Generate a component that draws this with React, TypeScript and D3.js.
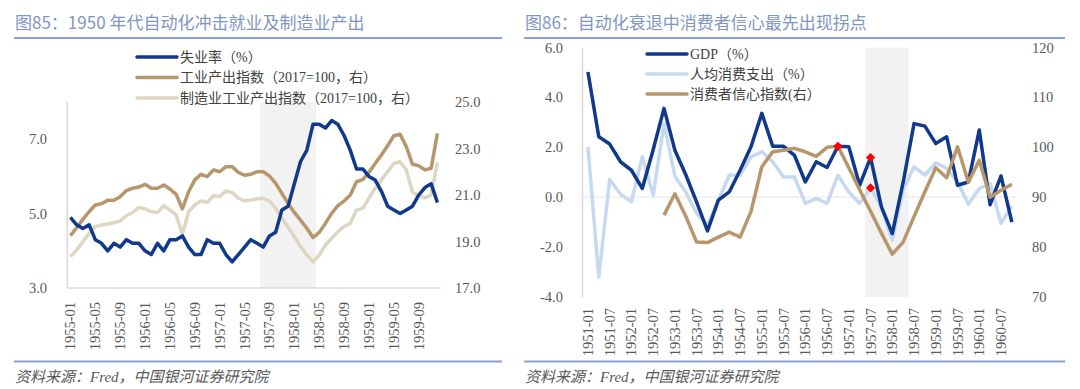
import * as d3 from "d3";

// categories
const monthCats: string[] = [];
for (let y = 1955; y <= 1959; y++) {
  for (let m = 1; m <= 12; m++) monthCats.push(`${y}-${String(m).padStart(2, "0")}`);
}
const quarterCats: string[] = [];
for (let y = 1951; y <= 1960; y++) {
  for (const m of [1, 4, 7, 10]) quarterCats.push(`${y}-${String(m).padStart(2, "0")}`);
}

// 图85 series (monthly 1955-01 .. 1959-12)
const unemployment = [
  4.9, 4.7, 4.6, 4.7, 4.3, 4.2, 4.0, 4.2, 4.1, 4.3, 4.2, 4.2,
  4.0, 3.9, 4.2, 4.0, 4.3, 4.3, 4.4, 4.1, 3.9, 3.9, 4.3, 4.2,
  4.2, 3.9, 3.7, 3.9, 4.1, 4.3, 4.2, 4.1, 4.4, 4.5, 5.1, 5.2,
  5.8, 6.4, 6.7, 7.4, 7.4, 7.3, 7.5, 7.4, 7.1, 6.7, 6.2, 6.2,
  6.0, 5.9, 5.6, 5.2, 5.1, 5.0, 5.1, 5.2, 5.5, 5.7, 5.8, 5.3,
];
const indpro = [
  19.25, 19.59, 19.95, 20.28, 20.57, 20.63, 20.77, 20.77, 20.93, 21.19, 21.29, 21.34,
  21.46, 21.29, 21.29, 21.43, 21.26, 21.03, 20.4, 21.14, 21.65, 21.89, 21.79, 22.08,
  22.0, 22.22, 22.22, 21.97, 21.85, 21.89, 22.0, 22.0, 21.82, 21.5, 21.07, 20.64,
  20.25, 19.92, 19.57, 19.17, 19.39, 19.78, 20.21, 20.54, 20.74, 21.0, 21.57, 21.66,
  21.97, 22.36, 22.72, 23.12, 23.55, 23.61, 23.08, 22.32, 22.26, 22.08, 22.15, 23.65,
];
const manufIndex = [
  18.35, 18.63, 18.99, 19.35, 19.64, 19.71, 19.75, 19.81, 19.88, 20.11, 20.25, 20.47,
  20.4, 20.28, 20.25, 20.54, 20.35, 20.14, 19.31, 20.28, 20.57, 20.74, 20.68, 20.97,
  20.93, 21.17, 21.1, 20.86, 20.75, 20.78, 20.84, 20.86, 20.74, 20.43, 20.0, 19.61,
  19.21, 18.78, 18.42, 18.13, 18.42, 18.85, 19.14, 19.42, 19.64, 19.78, 20.35, 20.43,
  20.86, 21.29, 21.65, 22.0, 22.36, 22.43, 22.08, 21.12, 20.97, 20.88, 21.0, 22.4,
];

// 图86 series (quarterly 1951Q1 .. 1960Q4)
const gdp = [
  5.02, 2.42, 2.13, 1.42, 1.08, 0.35, 1.9, 3.56, 1.88, 0.9,
  -0.2, -1.35, -0.12, 0.21, 1.08, 2.02, 3.36, 2.04, 2.04, 1.68,
  0.61, 1.42, 1.19, 2.04, 2.02, 0.48, 1.59, -0.39, -1.46, 0.6,
  2.95, 2.85, 2.15, 2.42, 0.48, 0.61, 2.69, -0.3, 0.85, -1.0,
];
const consumption = [
  2.02, -3.2, 0.71, 0.12, -0.19, 1.62, 0.08, 2.95, 0.84, 0.21,
  -0.65, -1.12, -0.12, 0.88, 0.88, 1.62, 1.82, 1.42, 0.81, 0.81,
  -0.25, -0.05, -0.25, 0.88, 0.21, -0.25, 0.37, -0.39, -1.72, 0.3,
  1.22, 0.88, 1.38, 1.15, 0.61, -0.28, 0.35, 0.55, -1.05, -0.35,
];
const sentiment: (number | null)[] = [
  null, null, null, null, null, null, null, 86.4, 90.7, 86.2,
  81.0, 80.9, 82.0, 83.0, 82.0, 87.1, 96.1, 99.1, 99.4, 99.8,
  99.1, 98.2, 100.0, 100.2, 95.9, 91.5, 87.2, 82.8, 78.6, 81.0,
  86.1, 91.1, 95.9, 93.9, 100.1, 93.0, 97.4, 90.0, 91.4, 92.6,
];

const unempTicks = [3, 5, 7];
const indexTicks = [17, 19, 21, 23, 25];
const gdpTicks = [-4, -2, 0, 2, 4, 6];
const sentTicks = [70, 80, 90, 100, 110, 120];

const NAVY = "#10388b";
const TAN = "#b8966b";
const BEIGE = "#ddd6c2";
const LIGHTBLUE = "#c6d9f1";
const SHADE = "#f2f2f2";
const AXISLINE = "#d9d9d9";
const TITLE = "#7f96c3";
const RULE = "#86a2d3";
const NUM = "'Liberation Serif', 'Noto Sans CJK SC', serif";
const CJK = "'Noto Sans CJK SC', sans-serif";

function LeftChart() {
  const x = d3.scaleBand<string>().domain(monthCats).range([67.3, 440.5]);
  const yL = d3.scaleLinear().domain([3, 8]).range([288, 102]);
  const yR = d3.scaleLinear().domain([17, 25]).range([288, 102]);
  const cx = (i: number) => (x(monthCats[i]) ?? 0) + x.bandwidth() / 2;
  const lineL = d3.line<number>().x((_, i) => cx(i)).y((d) => yL(d));
  const lineR = d3.line<number>().x((_, i) => cx(i)).y((d) => yR(d));
  const shadeX0 = x("1957-08") ?? 0;
  const shadeX1 = (x("1958-04") ?? 0) + x.bandwidth();
  const legend = [
    { label: "失业率（%）", color: NAVY },
    { label: "工业产出指数（2017=100，右）", color: TAN },
    { label: "制造业工业产出指数（2017=100，右）", color: BEIGE },
  ];
  return (
    <g>
      <text x={15} y={29} fontFamily={CJK} fontSize={17} fill={TITLE}>图85：1950 年代自动化冲击就业及制造业产出</text>
      <line x1={14} x2={502} y1={38} y2={38} stroke={RULE} strokeWidth={2} />
      <rect x={shadeX0} y={102} width={shadeX1 - shadeX0} height={186} fill={SHADE} />
      <line x1={67.3} x2={67.3} y1={102} y2={288} stroke={AXISLINE} strokeWidth={1.5} />
      <line x1={67.3} x2={440.5} y1={288} y2={288} stroke={AXISLINE} strokeWidth={1.5} />
      {unempTicks.map((t) => (
        <text key={t} x={47} y={yL(t)} textAnchor="end" dominantBaseline="central" fontFamily={NUM} fontSize={14.5} fill="#595959">{t.toFixed(1)}</text>
      ))}
      {indexTicks.map((t) => (
        <text key={t} x={455} y={yR(t)} dominantBaseline="central" fontFamily={NUM} fontSize={14.5} fill="#595959">{t.toFixed(1)}</text>
      ))}
      {monthCats.map((c, i) => i % 4 === 0 && (
        <text key={c} transform={`translate(${cx(i)},302) rotate(-90)`} textAnchor="end" dominantBaseline="central" fontFamily={NUM} fontSize={14.5} fill="#595959">{c}</text>
      ))}
      <path d={lineR(manufIndex) ?? ""} fill="none" stroke={BEIGE} strokeWidth={3.5} strokeLinejoin="round" />
      <path d={lineR(indpro) ?? ""} fill="none" stroke={TAN} strokeWidth={3.5} strokeLinejoin="round" />
      <path d={lineL(unemployment) ?? ""} fill="none" stroke={NAVY} strokeWidth={3.5} strokeLinejoin="round" />
      {legend.map((l, i) => (
        <g key={l.label} transform={`translate(0,${57 + i * 20.5})`}>
          <line x1={137} x2={177} stroke={l.color} strokeWidth={3.5} strokeLinecap="round" />
          <text x={180} dominantBaseline="central" fontFamily={NUM} fontSize={14} fill="#404040">{l.label}</text>
        </g>
      ))}
      <line x1={14} x2={502} y1={361.5} y2={361.5} stroke={RULE} strokeWidth={2} />
      <text x={15} y={382} fontFamily={NUM} fontStyle="italic" fontSize={15} fill="#595959">资料来源：Fred，中国银河证券研究院</text>
    </g>
  );
}

function RightChart() {
  const x = d3.scaleBand<string>().domain(quarterCats).range([582.5, 1017.3]);
  const yL = d3.scaleLinear().domain([-4, 6]).range([297, 47.5]);
  const yR = d3.scaleLinear().domain([70, 120]).range([297, 47.5]);
  const cx = (i: number) => (x(quarterCats[i]) ?? 0) + x.bandwidth() / 2;
  const lineL = d3.line<number>().x((_, i) => cx(i)).y((d) => yL(d));
  const lineR = d3.line<number | null>().defined((d) => d != null).x((_, i) => cx(i)).y((d) => yR(d as number));
  const shadeX0 = x("1957-07") ?? 0;
  const shadeX1 = (x("1958-04") ?? 0) + x.bandwidth();
  const markers = [
    { i: quarterCats.indexOf("1956-10"), y: yR(sentiment[quarterCats.indexOf("1956-10")] as number) },
    { i: quarterCats.indexOf("1957-07"), y: yL(gdp[quarterCats.indexOf("1957-07")]) },
    { i: quarterCats.indexOf("1957-07"), y: yL(consumption[quarterCats.indexOf("1957-07")]) },
  ];
  const legend = [
    { label: "GDP（%）", color: NAVY },
    { label: "人均消费支出（%）", color: LIGHTBLUE },
    { label: "消费者信心指数(右）", color: TAN },
  ];
  return (
    <g>
      <text x={525} y={29} fontFamily={CJK} fontSize={17} fill={TITLE}>图86：自动化衰退中消费者信心最先出现拐点</text>
      <line x1={524} x2={1065} y1={38} y2={38} stroke={RULE} strokeWidth={2} />
      <rect x={shadeX0} y={47.5} width={shadeX1 - shadeX0} height={249.5} fill={SHADE} />
      <line x1={582.5} x2={582.5} y1={47.5} y2={297} stroke={AXISLINE} strokeWidth={1.5} />
      <line x1={582.5} x2={1017.3} y1={yL(0)} y2={yL(0)} stroke="#eeeeee" strokeWidth={1.5} />
      {gdpTicks.map((t) => (
        <text key={t} x={563} y={yL(t)} textAnchor="end" dominantBaseline="central" fontFamily={NUM} fontSize={14.5} fill="#595959">{t.toFixed(1)}</text>
      ))}
      {sentTicks.map((t) => (
        <text key={t} x={1032} y={yR(t)} dominantBaseline="central" fontFamily={NUM} fontSize={14.5} fill="#595959">{t}</text>
      ))}
      {quarterCats.map((c, i) => i % 2 === 0 && (
        <text key={c} transform={`translate(${cx(i)},308) rotate(-90)`} textAnchor="end" dominantBaseline="central" fontFamily={NUM} fontSize={14.5} fill="#595959">{c}</text>
      ))}
      <path d={lineL(consumption) ?? ""} fill="none" stroke={LIGHTBLUE} strokeWidth={3.5} strokeLinejoin="round" />
      <path d={lineL(gdp) ?? ""} fill="none" stroke={NAVY} strokeWidth={3.5} strokeLinejoin="round" />
      <path d={lineR(sentiment) ?? ""} fill="none" stroke={TAN} strokeWidth={3.5} strokeLinejoin="round" />
      {markers.map((m, k) => (
        <path key={k} d={d3.symbol(d3.symbolDiamond2, 55)() ?? ""} transform={`translate(${cx(m.i)},${m.y})`} fill="#ff0000" />
      ))}
      {legend.map((l, i) => (
        <g key={l.label} transform={`translate(0,${54 + i * 20})`}>
          <line x1={647} x2={687} stroke={l.color} strokeWidth={3.5} strokeLinecap="round" />
          <text x={690} dominantBaseline="central" fontFamily={NUM} fontSize={14} fill="#404040">{l.label}</text>
        </g>
      ))}
      <line x1={524} x2={1065} y1={361.5} y2={361.5} stroke={RULE} strokeWidth={2} />
      <text x={525} y={382} fontFamily={NUM} fontStyle="italic" fontSize={15} fill="#595959">资料来源：Fred，中国银河证券研究院</text>
    </g>
  );
}

export default function App() {
  return (
    <svg width={1080} height={389} style={{ position: "absolute", left: 0, top: 0, background: "#fff" }}>
      <LeftChart />
      <RightChart />
    </svg>
  );
}
